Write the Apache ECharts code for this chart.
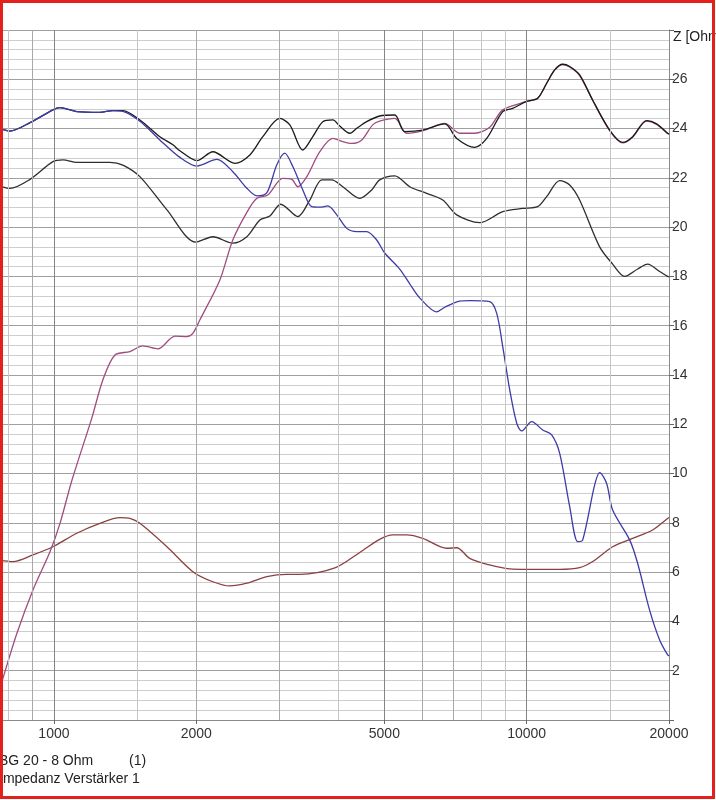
<!DOCTYPE html>
<html>
<head>
<meta charset="utf-8">
<script src="https://cdn.jsdelivr.net/npm/echarts@6/dist/echarts.min.js"></script>
<style>
html,body{margin:0;padding:0;background:#fff;}
#c{width:716px;height:800px;}
</style>
</head>
<body>
<div id="c"></div>
<script>
// ---- data (frequency in Hz, impedance in Ohm) ----
const xTickLabels = [1000, 2000, 5000, 10000, 20000];
const xGridLines = [800, 900, 1000, 1500, 2000, 3000, 4000, 5000, 6000, 7000, 8000, 9000, 10000, 15000];
const yLabelValues = [2, 4, 6, 8, 10, 12, 14, 16, 18, 20, 22, 24, 26];

const fUpperBlack = [769, 807, 890, 995, 1030, 1118, 1251, 1332, 1399, 1520, 1675, 1785, 1847, 2006, 2169, 2414, 2597, 2766, 3004, 3155, 3361, 3528, 3705, 3890, 4025, 4225, 4371, 4587, 4887, 5259, 5521, 6027, 6710, 7112, 7765, 8231, 8899, 9342, 10000, 10550, 11023, 11461, 11918, 12330, 12942, 13790, 14978, 15958, 16753, 17936, 18829, 19868, 20000];
const zUpperBlack = [24.0, 23.9, 24.24, 24.76, 24.85, 24.69, 24.66, 24.73, 24.73, 24.35, 23.67, 23.34, 23.1, 22.7, 23.06, 22.59, 22.93, 23.67, 24.41, 24.15, 23.13, 23.67, 24.28, 24.35, 24.1, 23.81, 24.01, 24.28, 24.51, 24.55, 23.88, 23.94, 24.19, 23.6, 23.24, 23.6, 24.69, 24.82, 25.1, 25.23, 25.84, 26.38, 26.61, 26.52, 26.18, 25.16, 23.94, 23.44, 23.67, 24.32, 24.19, 23.81, 23.78];

const fBlue = [769, 807, 890, 995, 1030, 1118, 1251, 1332, 1399, 1520, 1675, 1847, 2006, 2211, 2390, 2559, 2687, 2821, 2960, 3078, 3201, 3361, 3511, 3651, 3796, 3966, 4164, 4371, 4587, 4816, 5008, 5388, 5657, 5939, 6454, 6710, 7217, 7578, 8352, 8642, 8899, 9208, 9527, 9759, 10247, 10810, 11295, 11744, 12330, 12820, 13134, 13925, 14266, 14761, 15200, 16510, 17167, 18197, 19108, 19868, 20000];
const zBlue = [24.0, 23.9, 24.24, 24.76, 24.85, 24.69, 24.66, 24.73, 24.7, 24.3, 23.54, 22.83, 22.48, 22.75, 22.25, 21.58, 21.27, 21.4, 22.52, 23.0, 22.46, 21.51, 20.83, 20.81, 20.86, 20.5, 19.95, 19.82, 19.82, 19.48, 18.95, 18.3, 17.7, 17.13, 16.56, 16.75, 17.0, 17.02, 16.98, 16.5, 15.15, 13.39, 12.04, 11.73, 12.11, 11.77, 11.57, 10.82, 8.66, 7.24, 7.3, 9.54, 10.04, 9.6, 8.52, 7.31, 6.36, 4.46, 3.25, 2.64, 2.6];

const fPurple = [769, 776, 835, 903, 981, 1030, 1092, 1203, 1269, 1346, 1448, 1542, 1659, 1803, 1911, 1967, 2035, 2244, 2390, 2559, 2687, 2834, 3048, 3186, 3280, 3427, 3651, 3890, 4083, 4266, 4479, 4723, 4887, 5259, 5575, 6027, 6710, 7217, 7765, 8352, 8899, 10000, 10550, 11023, 11461, 11918, 12330, 12942, 13790, 14978, 15958, 16753, 17936, 18829, 19868, 20000];
const zPurple = [1.3, 1.55, 3.52, 5.28, 6.83, 7.98, 9.74, 12.26, 13.8, 14.81, 14.95, 15.18, 15.06, 15.58, 15.56, 15.69, 16.23, 17.86, 19.48, 20.6, 21.17, 21.3, 21.98, 21.94, 21.64, 22.05, 23.06, 23.6, 23.47, 23.4, 23.54, 24.15, 24.3, 24.41, 23.81, 23.91, 24.21, 23.81, 23.81, 24.05, 24.76, 25.1, 25.23, 25.84, 26.38, 26.6, 26.5, 26.15, 25.14, 23.92, 23.42, 23.65, 24.3, 24.17, 23.8, 23.77];

const fLowerBlack = [769, 807, 890, 995, 1045, 1118, 1314, 1399, 1520, 1734, 1996, 2169, 2390, 2559, 2727, 2862, 3019, 3280, 3477, 3687, 3870, 4083, 4436, 4700, 4887, 5259, 5657, 6145, 6645, 7112, 7956, 8899, 9806, 10550, 11023, 11744, 12330, 12942, 14266, 15200, 16114, 17167, 18024, 19108, 19868, 20000];
const zLowerBlack = [21.67, 21.57, 21.94, 22.66, 22.73, 22.63, 22.63, 22.52, 22.05, 20.7, 19.39, 19.61, 19.35, 19.61, 20.29, 20.45, 20.93, 20.43, 21.1, 21.92, 21.92, 21.64, 21.17, 21.51, 21.92, 22.08, 21.64, 21.37, 21.1, 20.5, 20.18, 20.63, 20.76, 20.83, 21.24, 21.89, 21.71, 21.1, 19.2, 18.5, 18.0, 18.3, 18.5, 18.2, 18.0, 17.98];

const fBrown = [769, 819, 903, 995, 1118, 1251, 1379, 1448, 1520, 1734, 1967, 2169, 2356, 2559, 2821, 3109, 3312, 3928, 4436, 4887, 5207, 5575, 6027, 6776, 7112, 7578, 8352, 9208, 10000, 11744, 12942, 13790, 15200, 16753, 18467, 19868, 20000];
const zBrown = [6.49, 6.43, 6.7, 7.03, 7.58, 7.98, 8.21, 8.18, 7.98, 7.03, 6.02, 5.61, 5.44, 5.55, 5.82, 5.91, 5.91, 6.17, 6.8, 7.33, 7.51, 7.51, 7.37, 6.97, 6.99, 6.56, 6.29, 6.13, 6.11, 6.11, 6.18, 6.43, 7.03, 7.37, 7.71, 8.18, 8.22];

function pairs(f, z) { return f.map((v, i) => [v, z[i]]); }

const darkV = [1000, 5000, 10000];
const midV = [900, 2000, 3000, 6000, 7000];
function vColor(v) { return darkV.includes(v) ? '#858585' : (midV.includes(v) ? '#a8a8a8' : '#c6c6c6'); }

const FONT = '"Liberation Sans", Arial, sans-serif';

function lineSeries(name, data, color, w) {
  return {
    name: name, type: 'line', data: data, showSymbol: false, symbol: 'none',
    smooth: 0.3, yAxisIndex: 0, z: 3, silent: true,
    lineStyle: { color: color, width: w || 1.3 }
  };
}

const chart = echarts.init(document.getElementById('c'), null, { renderer: 'canvas' });
chart.setOption({
  animation: false,
  backgroundColor: '#ffffff',
  grid: { left: 0, right: 47, top: 30, bottom: 80, containLabel: false },
  xAxis: {
    type: 'log', logBase: 10, min: 769, max: 20000,
    axisLine: { show: true, onZero: false, lineStyle: { color: '#8a8a8a', width: 1 } },
    axisTick: { show: true, length: 4, customValues: xTickLabels, lineStyle: { color: '#666' } },
    axisLabel: {
      show: true, customValues: xTickLabels, fontSize: 14, color: '#333', margin: 7, fontFamily: FONT,
      formatter: function (v) { return String(Math.round(v)); }
    },
    splitLine: { show: false },
    minorTick: { show: false }, minorSplitLine: { show: false }
  },
  yAxis: [
    {
      type: 'value', min: 0, max: 28, interval: 0.4,
      axisLine: { show: false }, axisTick: { show: false }, axisLabel: { show: false },
      splitLine: { show: true, lineStyle: { width: 1, color: ['#a0a0a0', '#cdcdcd', '#cdcdcd', '#cdcdcd', '#cdcdcd'] } }
    },
    {
      type: 'value', min: 0, max: 28, interval: 2, position: 'right',
      axisLine: { show: true, lineStyle: { color: '#8a8a8a' } },
      axisTick: { show: true, length: 5, lineStyle: { color: '#666' } },
      axisLabel: {
        show: true, fontSize: 14, color: '#333', margin: 3, fontFamily: FONT,
        formatter: function (v) { return yLabelValues.includes(Math.round(v)) ? String(Math.round(v)) : ''; }
      },
      splitLine: { show: false }
    }
  ],
  series: [
    {
      name: 'grid', type: 'line', data: [], z: 1, silent: true, yAxisIndex: 0,
      markLine: {
        silent: true, symbol: ['none', 'none'], animation: false,
        label: { show: false },
        data: xGridLines.map(v => ({ xAxis: v, lineStyle: { color: vColor(v), width: 1, type: 'solid' } }))
      }
    },
    lineSeries('Brown', pairs(fBrown, zBrown), '#8c4040'),
    lineSeries('LowerBlack', pairs(fLowerBlack, zLowerBlack), '#2e2e2e'),
    lineSeries('Purple', pairs(fPurple, zPurple), '#a04c80'),
    lineSeries('UpperBlack', pairs(fUpperBlack, zUpperBlack), '#1a1a1a'),
    lineSeries('Blue', pairs(fBlue, zBlue), '#3c3ca8')
  ],
  graphic: [
    { type: 'text', left: 673, top: 30, style: { text: 'Z [Ohm]', fill: '#222', font: '14px ' + FONT } },
    { type: 'text', x: -1, y: 754, style: { text: 'BG 20 - 8 Ohm', fill: '#222', font: '14px ' + FONT } },
    { type: 'text', x: 129, y: 754, style: { text: '(1)', fill: '#222', font: '14px ' + FONT } },
    { type: 'text', x: -1, y: 772, style: { text: 'Impedanz Verstärker 1', fill: '#222', font: '14px ' + FONT } },
    { type: 'rect', z: 100, shape: { x: 1.5, y: 1.5, width: 712, height: 796 }, style: { fill: 'none', stroke: '#e3201b', lineWidth: 3 } }
  ]
});
</script>
</body>
</html>
